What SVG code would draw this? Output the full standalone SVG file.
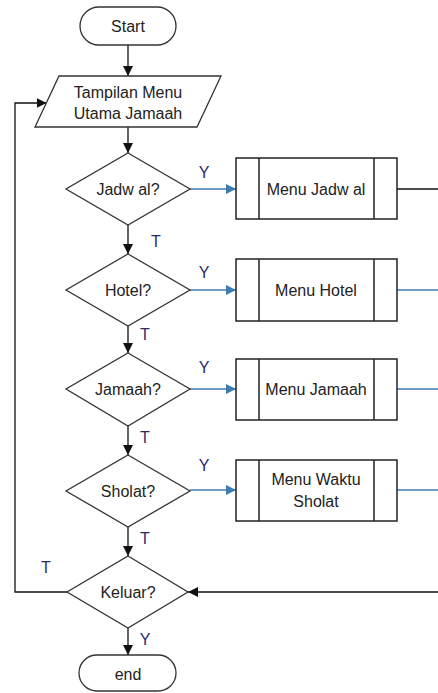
<svg xmlns="http://www.w3.org/2000/svg" width="438" height="693" viewBox="0 0 438 693">
<defs>
<marker id="ak" viewBox="0 0 10 10" refX="10" refY="5" markerWidth="10" markerHeight="10" markerUnits="userSpaceOnUse" orient="auto"><path d="M0,0 L10,5 L0,10 z" fill="#111"/></marker>
<marker id="ab" viewBox="0 0 10 10" refX="10" refY="5" markerWidth="10" markerHeight="10" markerUnits="userSpaceOnUse" orient="auto"><path d="M0,0 L10,5 L0,10 z" fill="#3f7ab0"/></marker>
</defs>
<style>
.s{fill:#fff;stroke:#333;stroke-width:1.3}
.b{fill:#fff;stroke:#222;stroke-width:1.5}
.t{font-family:"Liberation Sans",Arial,sans-serif;font-size:16px;fill:#222;text-anchor:middle}
.l{font-family:"Liberation Sans",Arial,sans-serif;font-size:16px;fill:#2a2a6e;text-anchor:middle}
.k{fill:none;stroke:#111;stroke-width:1.3}
.bl{fill:none;stroke:#3f7ab0;stroke-width:1.3}
</style>
<g id="connectors">
<path class="k" d="M128,45 V76" marker-end="url(#ak)"/>
<path class="k" d="M128,127 V153" marker-end="url(#ak)"/>
<path class="k" d="M128,225 V254" marker-end="url(#ak)"/>
<path class="k" d="M128,326 V353" marker-end="url(#ak)"/>
<path class="k" d="M128,426 V455" marker-end="url(#ak)"/>
<path class="k" d="M128,527 V556" marker-end="url(#ak)"/>
<path class="k" d="M128,628 V655" marker-end="url(#ak)"/>
<path class="bl" d="M190,189 H236" marker-end="url(#ab)"/>
<path class="bl" d="M190,290 H236" marker-end="url(#ab)"/>
<path class="bl" d="M190,389 H236" marker-end="url(#ab)"/>
<path class="bl" d="M190,490 H236" marker-end="url(#ab)"/>
<path class="k" d="M397,189 H438"/>
<path class="bl" d="M397,290 H438"/>
<path class="bl" d="M397,389 H438"/>
<path class="bl" d="M397,490 H438"/>
<path class="k" d="M438,592 H188" marker-end="url(#ak)"/>
<path class="k" d="M67,592 H15 V103 H46.5" marker-end="url(#ak)"/>
<text class="l" x="204" y="178">Y</text>
<text class="l" x="156" y="247">T</text>
<text class="l" x="204" y="278">Y</text>
<text class="l" x="145" y="340">T</text>
<text class="l" x="204" y="373">Y</text>
<text class="l" x="145" y="443">T</text>
<text class="l" x="204" y="471">Y</text>
<text class="l" x="145" y="544">T</text>
<text class="l" x="46" y="573">T</text>
<text class="l" x="145" y="645">Y</text>
</g>
<g id="start">
<rect class="s" x="80" y="7" width="96" height="38" rx="19"/>
<text class="t" x="128" y="32">Start</text>
</g>
<g id="tampilan">
<polygon class="s" points="59,76 221,76 197,127 35,127"/>
<text class="t" x="128" y="98">Tampilan Menu</text>
<text class="t" x="128" y="119">Utama Jamaah</text>
</g>
<g id="jadwal">
<polygon class="s" points="128,153 190,189 128,225 66,189"/>
<text class="t" x="128" y="195">Jadw al?</text>
</g>
<g id="menu-jadwal">
<rect class="b" x="236" y="158" width="161" height="61"/>
<path class="b" d="M259,158 V219 M374,158 V219"/>
<text class="t" x="316" y="195">Menu Jadw al</text>
</g>
<g id="hotel">
<polygon class="s" points="128,254 190,290 128,326 66,290"/>
<text class="t" x="128" y="296">Hotel?</text>
</g>
<g id="menu-hotel">
<rect class="b" x="236" y="259" width="161" height="62"/>
<path class="b" d="M259,259 V321 M374,259 V321"/>
<text class="t" x="316" y="296">Menu Hotel</text>
</g>
<g id="jamaah">
<polygon class="s" points="128,353 190,389 128,426 66,389"/>
<text class="t" x="128" y="395">Jamaah?</text>
</g>
<g id="menu-jamaah">
<rect class="b" x="236" y="359" width="161" height="61"/>
<path class="b" d="M259,359 V420 M374,359 V420"/>
<text class="t" x="316" y="395">Menu Jamaah</text>
</g>
<g id="sholat">
<polygon class="s" points="128,455 190,491 128,527 66,491"/>
<text class="t" x="128" y="497">Sholat?</text>
</g>
<g id="menu-sholat">
<rect class="b" x="236" y="460" width="161" height="61"/>
<path class="b" d="M259,460 V521 M374,460 V521"/>
<text class="t" x="316" y="485">Menu Waktu</text>
<text class="t" x="316" y="507">Sholat</text>
</g>
<g id="keluar">
<polygon class="s" points="128,556 188,592 128,628 67,592"/>
<text class="t" x="128" y="598">Keluar?</text>
</g>
<g id="end">
<rect class="s" x="79" y="655" width="97" height="36" rx="18"/>
<text class="t" x="128" y="680">end</text>
</g>
</svg>
